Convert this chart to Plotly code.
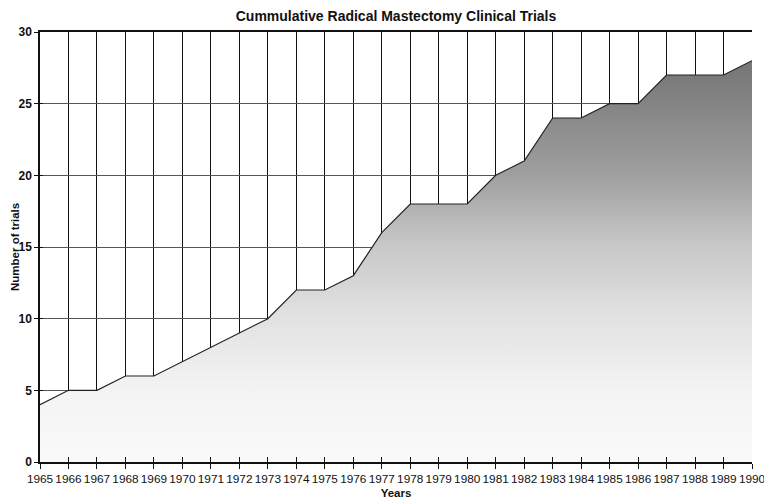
import plotly.graph_objects as go

years = list(range(1965, 1991))
trials = [4, 5, 5, 6, 6, 7, 8, 9, 10, 12, 12, 13, 16, 18, 18, 18, 20, 21, 24, 24, 25, 25, 27, 27, 27, 28]
y_ticks = [0, 5, 10, 15, 20, 25, 30]

FONT = "Liberation Sans, Arial, Helvetica, sans-serif"

fig = go.Figure()
fig.add_trace(go.Scatter(
    x=years, y=trials, mode="lines",
    line=dict(color="#222222", width=1.2),
    fill="tozeroy",
    fillgradient=dict(type="vertical", start=0, stop=28,
                      colorscale=[[0, "#fafafa"], [0.18, "#f3f3f3"], [0.36, "#e2e2e2"],
                                  [0.54, "#c8c8c8"], [0.71, "#a0a0a0"], [0.96, "#7a7a7a"],
                                  [1, "#767676"]]),
    hoverinfo="x+y", showlegend=False,
))
# invisible trace carrying the inner tick-mark axes
fig.add_trace(go.Scatter(x=[years[0]], y=[0], xaxis="x2", yaxis="y2", mode="markers",
                         marker=dict(opacity=0), hoverinfo="skip", showlegend=False))

fig.update_layout(
    width=764, height=499,
    margin=dict(l=40, r=12, t=32, b=37),
    paper_bgcolor="white", plot_bgcolor="white",
    title=dict(text="<b>Cummulative Radical Mastectomy Clinical Trials</b>",
               xref="paper", x=0.5, xanchor="center", y=0.978, yanchor="top",
               font=dict(family=FONT, size=14, color="#111")),
    font=dict(family=FONT, color="#111"),
    xaxis=dict(
        range=[1965, 1990], tickmode="array", tickvals=years, ticktext=[str(y) for y in years],
        showgrid=True, gridcolor="#111", gridwidth=1,
        showline=True, linecolor="#111", linewidth=1.5, mirror=True,
        ticks="outside", ticklen=5, tickcolor="#111", tickangle=0,
        tickfont=dict(family=FONT, size=11.8, color="#111"),
        ticklabeloverflow="allow",
        title=dict(text="<b>Years</b>", font=dict(size=11.5), standoff=10),
        zeroline=False, automargin=False,
    ),
    yaxis=dict(
        range=[0, 30], tickmode="array", tickvals=y_ticks, ticktext=[f"<b>{v}</b>" for v in y_ticks],
        showgrid=True, gridcolor="#555", gridwidth=1,
        showline=True, linecolor="#111", linewidth=1.5,
        ticks="outside", ticklen=4, tickcolor="#111",
        tickfont=dict(family=FONT, size=12, color="#111"),
        ticklabeloverflow="allow",
        zeroline=False, automargin=False,
    ),
    xaxis2=dict(overlaying="x", anchor="y", range=[1965, 1990], tickmode="array", tickvals=years,
                ticks="inside", ticklen=5, tickcolor="#111", showticklabels=False,
                showgrid=False, zeroline=False, showline=False, automargin=False, side="bottom"),
    yaxis2=dict(overlaying="y", anchor="x", range=[0, 30], tickmode="array", tickvals=y_ticks,
                ticks="inside", ticklen=3, tickcolor="#111", showticklabels=False,
                showgrid=False, zeroline=False, showline=False, automargin=False, side="left"),
    annotations=[dict(text="<b>Number of trials</b>", xref="paper", yref="paper",
                      x=(15 - 40) / 712, y=0.5, xanchor="center", yanchor="middle",
                      textangle=-90, showarrow=False,
                      font=dict(family=FONT, size=11.5, color="#111"))],
)

fig.write_html("out.html",
               config={"displayModeBar": False},
               post_script="document.body.style.margin='0';document.body.style.overflow='hidden';")
